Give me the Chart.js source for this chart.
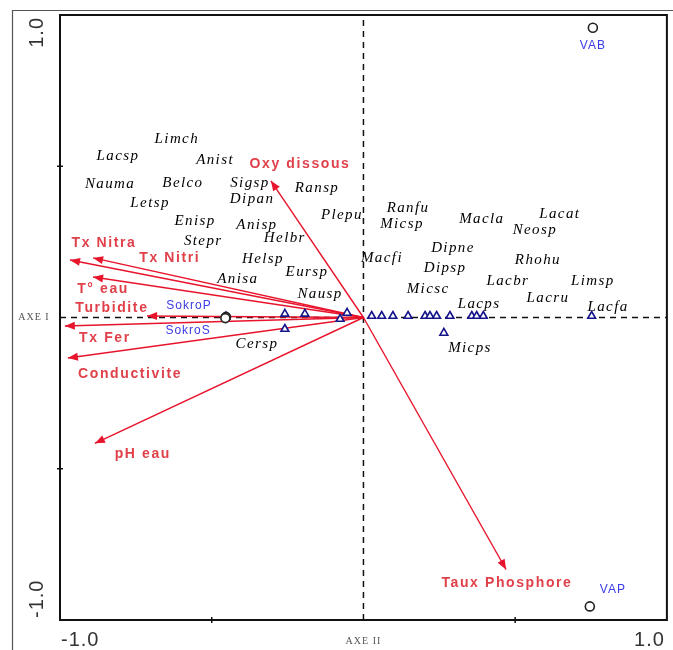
<!DOCTYPE html>
<html><head><meta charset="utf-8">
<script src="https://cdn.jsdelivr.net/npm/chart.js@4.4.1/dist/chart.umd.min.js"></script>
<style>html,body{margin:0;padding:0;background:#fff}canvas{display:block}</style>
</head><body>
<canvas id="c" width="673" height="650"></canvas>
<script>
// ---- Species (labels + triangle scores) ----
const speciesNames = ['Limch','Lacsp','Anist','Nauma','Belco','Sigsp','Dipan','Ransp','Letsp','Plepu','Enisp','Anisp','Helbr','Stepr','Helsp','Eursp','Anisa','Nausp','Cersp','Ranfu','Micsp','Macla','Lacat','Neosp','Dipne','Macfi','Dipsp','Rhohu','Micsc','Lacbr','Limsp','Lacru','Lacps','Lacfa','Micps'];
const speciesLabelX = [-0.615,-0.809,-0.489,-0.835,-0.595,-0.374,-0.367,-0.153,-0.703,-0.071,-0.555,-0.351,-0.259,-0.528,-0.331,-0.186,-0.414,-0.143,-0.351,0.147,0.127,0.390,0.647,0.565,0.295,0.061,0.269,0.575,0.213,0.476,0.756,0.608,0.381,0.806,0.351];
const speciesLabelY = [0.591,0.535,0.522,0.442,0.445,0.445,0.392,0.429,0.379,0.339,0.320,0.306,0.263,0.253,0.194,0.151,0.128,0.078,-0.088,0.363,0.310,0.326,0.343,0.290,0.230,0.197,0.164,0.190,0.094,0.121,0.121,0.065,0.045,0.035,-0.101];
const speciesPointX = [-0.453,-0.259,-0.193,-0.259,-0.077,-0.054,0.027,0.060,0.097,0.147,0.203,0.219,0.241,0.285,0.357,0.373,0.395,0.752,0.265];
const speciesPointY = [0.003,0.012,0.012,-0.038,-0.005,0.015,0.005,0.005,0.005,0.005,0.005,0.005,0.005,0.005,0.005,0.005,0.005,0.005,-0.051];

// ---- Sites ----
const siteNames = ['VAB','VAP','SokroP','SokroS'];
const siteX = [0.756,0.746,-0.453,-0.455];
const siteY = [0.958,-0.955,0.002,-0.002];
const siteLabelX = [0.756,0.822,-0.575,-0.578];
const siteLabelY = [0.899,-0.899,0.038,-0.045];

// ---- Environmental variables (arrows) ----
const envNames = ['Oxy dissous','Tx Nitra','Tx Nitri','T° eau','Turbidite','Tx Fer','Conductivite','pH eau','Taux Phosphore'];
const envX = [-0.305,-0.967,-0.891,-0.891,-0.713,-0.984,-0.974,-0.885,0.470];
const envY = [0.452,0.190,0.197,0.134,0.005,-0.028,-0.134,-0.416,-0.833];
const envLabelX = [-0.209,-0.855,-0.638,-0.858,-0.829,-0.852,-0.769,-0.727,0.473];
const envLabelY = [0.508,0.247,0.197,0.094,0.031,-0.068,-0.187,-0.452,-0.879];

// ---- Axes ----
const tickValues = [-1,-0.5,0,0.5,1];
const tickLabels = ['-1.0','','','','1.0'];
const axisTitles = ['AXE I','AXE II'];

const RED = '#e8142c', RED_TXT = '#e0404a', BLUE_TXT = '#3a3ae6', NAVY = '#14148a';

const arrowSets = envNames.map((n,i)=>({
  label: n, type:'scatter', showLine:true,
  data:[{x:0,y:0},{x:envX[i],y:envY[i]}],
  borderColor: RED, borderWidth:1.4, pointRadius:0, order:2
}));

const overlay = {
  id:'overlay',
  beforeDraw(chart){
    const ctx = chart.ctx;
    ctx.save();
    ctx.fillStyle='#fff'; ctx.fillRect(0,0,chart.width,chart.height);
    ctx.strokeStyle='#555'; ctx.lineWidth=1.2;
    ctx.beginPath(); ctx.moveTo(12.5,chart.height); ctx.lineTo(12.5,10.5); ctx.lineTo(chart.width,10.5); ctx.stroke();
    ctx.restore();
  },
  afterDatasetsDraw(chart){
    const ctx = chart.ctx, a = chart.chartArea, xs = chart.scales.x, ys = chart.scales.y;
    const px = v=>xs.getPixelForValue(v), py = v=>ys.getPixelForValue(v);
    ctx.save();
    // arrowheads
    const x0=px(0), y0=py(0);
    ctx.fillStyle = RED;
    envX.forEach((vx,i)=>{
      const x1=px(vx), y1=py(envY[i]);
      const ang=Math.atan2(y1-y0,x1-x0), L=10, W=4;
      ctx.beginPath();
      ctx.moveTo(x1,y1);
      ctx.lineTo(x1-L*Math.cos(ang)+W*Math.sin(ang), y1-L*Math.sin(ang)-W*Math.cos(ang));
      ctx.lineTo(x1-L*Math.cos(ang)-W*Math.sin(ang), y1-L*Math.sin(ang)+W*Math.cos(ang));
      ctx.closePath(); ctx.fill();
    });
    // plot border
    ctx.strokeStyle='#111'; ctx.lineWidth=2;
    ctx.strokeRect(a.left,a.top,a.right-a.left,a.bottom-a.top);
    // tick marks
    ctx.lineWidth=1.5;
    tickValues.forEach(v=>{
      if (Math.abs(v)===0.5){
        ctx.beginPath(); ctx.moveTo(px(v),a.bottom-3); ctx.lineTo(px(v),a.bottom+3); ctx.stroke();
        ctx.beginPath(); ctx.moveTo(a.left-3,py(v)); ctx.lineTo(a.left+3,py(v)); ctx.stroke();
      }
    });
    // tick labels
    ctx.fillStyle='#333'; ctx.font='20px "Liberation Sans", Arial, sans-serif';
    ctx.letterSpacing='1px'; ctx.textBaseline='middle';
    tickValues.forEach((v,i)=>{
      const t = tickLabels[i]; if(!t) return;
      ctx.textAlign = v<0 ? 'left' : 'right';
      ctx.fillText(t, v<0 ? a.left+1 : a.right-2, 640);
      ctx.save(); ctx.translate(37, v>0 ? a.top+2 : a.bottom-2); ctx.rotate(-Math.PI/2);
      ctx.textAlign = v>0 ? 'right' : 'left';
      ctx.fillText(t,0,0); ctx.restore();
    });
    // axis titles
    ctx.fillStyle='#555'; ctx.font='10px "Liberation Serif", serif'; ctx.letterSpacing='1px';
    ctx.textAlign='center';
    ctx.fillText(axisTitles[0], 34, py(0));
    ctx.fillText(axisTitles[1], px(0), 641);
    // species labels
    ctx.fillStyle='#000'; ctx.font='italic 15px "Liberation Serif", "Times New Roman", serif'; ctx.letterSpacing='1.4px';
    speciesNames.forEach((n,i)=> ctx.fillText(n, px(speciesLabelX[i]), py(speciesLabelY[i])));
    // env labels
    ctx.fillStyle=RED_TXT; ctx.font='bold 14px "Liberation Sans", Arial, sans-serif'; ctx.letterSpacing='1.6px';
    envNames.forEach((n,i)=> ctx.fillText(n, px(envLabelX[i]), py(envLabelY[i])));
    // site labels
    ctx.fillStyle=BLUE_TXT; ctx.font='12px "Liberation Sans", Arial, sans-serif'; ctx.letterSpacing='1px';
    siteNames.forEach((n,i)=> ctx.fillText(n, px(siteLabelX[i]), py(siteLabelY[i])));
    ctx.restore();
  }
};

new Chart(document.getElementById('c'), {
  type:'scatter',
  data:{ datasets:[
    {label:'axisH', showLine:true, data:[{x:-1,y:0},{x:1,y:0}], borderColor:'#111', borderWidth:1.5, borderDash:[6,5], pointRadius:0, order:5},
    {label:'axisV', showLine:true, data:[{x:0,y:-1},{x:0,y:1}], borderColor:'#111', borderWidth:1.5, borderDash:[6,5], pointRadius:0, order:5},
    ...arrowSets,
    {label:'species', data: speciesPointX.map((v,i)=>({x:v,y:speciesPointY[i]})), pointStyle:'triangle', pointRadius:4.5, borderColor:NAVY, backgroundColor:'#fff', borderWidth:1.6, order:1},
    {label:'sites', data: siteX.map((v,i)=>({x:v,y:siteY[i]})), pointStyle:'circle', pointRadius:4.5, borderColor:'#222', backgroundColor:'#fff', borderWidth:1.6, order:0}
  ]},
  options:{
    responsive:false, animation:false,
    layout:{padding:{left:60, right:6, top:15, bottom:30}},
    scales:{
      x:{type:'linear', min:-1, max:1, display:false},
      y:{type:'linear', min:-1, max:1, display:false}
    },
    plugins:{legend:{display:false}, tooltip:{enabled:false}}
  },
  plugins:[overlay]
});
</script>
</body></html>
